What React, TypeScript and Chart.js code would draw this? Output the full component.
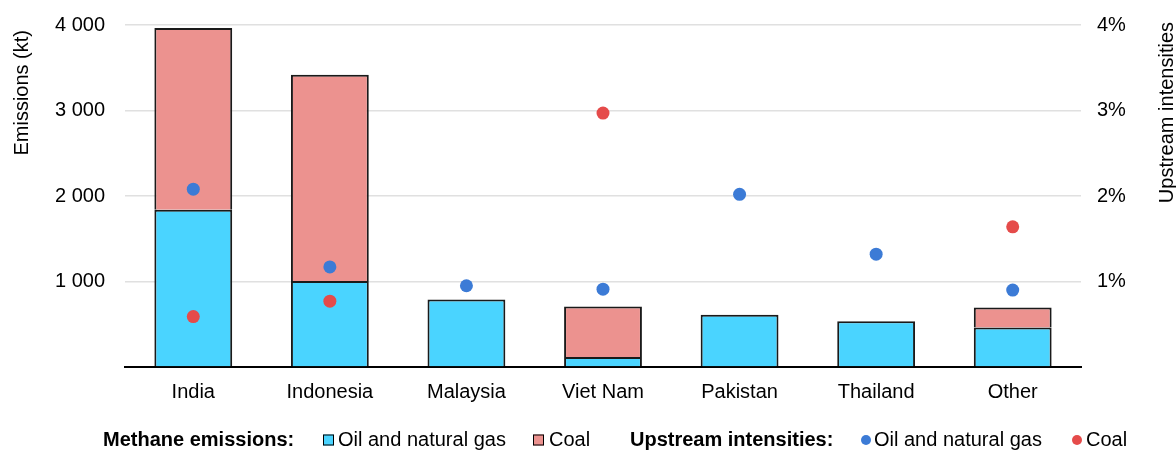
import React, { useEffect, useRef } from 'react';
import { Chart, registerables } from 'chart.js';

Chart.register(...registerables);

const categories = ['India', 'Indonesia', 'Malaysia', 'Viet Nam', 'Pakistan', 'Thailand', 'Other'];
const oilGasEmissions = [1838, 1005, 790, 117, 610, 536, 462];
const coalEmissions = [2127, 2413, null, 591, null, null, 235];
const oilGasIntensity = [2.08, 1.17, 0.95, 0.91, 2.02, 1.32, 0.9];
const coalIntensity = [0.59, 0.77, null, 2.97, null, null, 1.64];
const leftAxisTitle = 'Emissions (kt)';
const rightAxisTitle = 'Upstream intensities';
const legendGroup1 = 'Methane emissions:';
const legendGroup2 = 'Upstream intensities:';
const legendLabels = ['Oil and natural gas', 'Coal'];

const FONT = "'Liberation Sans', Arial, sans-serif";
const FS = 20;
const CYAN = '#4ad4ff';
const PINK = '#ec928f';
const BLUE = '#3c7bd6';
const RED = '#e54b4a';
const BAR_BORDER = '#1a1a1a';

const fmt = (v: number) => String(v).replace(/\B(?=(\d{3})+(?!\d))/g, ' ');

const overlayPlugin = {
  id: 'overlay',
  afterDraw(chart: any) {
    const ctx = chart.ctx as CanvasRenderingContext2D;
    ctx.save();
    ctx.fillStyle = '#000';
    ctx.font = `${FS}px ${FONT}`;
    ctx.textBaseline = 'middle';
    // axis titles
    ctx.save();
    ctx.translate(22, 30);
    ctx.rotate(-Math.PI / 2);
    ctx.textAlign = 'right';
    ctx.fillText(leftAxisTitle, 0, 0);
    ctx.restore();
    ctx.save();
    ctx.translate(1167, 22);
    ctx.rotate(-Math.PI / 2);
    ctx.textAlign = 'right';
    ctx.fillText(rightAxisTitle, 0, 0);
    ctx.restore();

    // legend
    const ly = 440;
    ctx.textAlign = 'left';
    ctx.font = `bold ${FS}px ${FONT}`;
    ctx.fillText(legendGroup1, 103, ly);
    ctx.fillText(legendGroup2, 630, ly);
    ctx.font = `${FS}px ${FONT}`;
    const box = (x: number, c: string) => {
      ctx.fillStyle = c;
      ctx.fillRect(x, ly - 5.5, 11, 11);
      ctx.strokeStyle = '#000';
      ctx.lineWidth = 1;
      ctx.strokeRect(x + 0.5, ly - 5, 10, 10);
    };
    box(323, CYAN);
    box(533, PINK);
    const dot = (x: number, c: string) => {
      ctx.fillStyle = c;
      ctx.beginPath();
      ctx.arc(x, ly, 5, 0, Math.PI * 2);
      ctx.fill();
    };
    dot(866, BLUE);
    dot(1077, RED);
    ctx.fillStyle = '#000';
    ctx.fillText(legendLabels[0], 338, ly);
    ctx.fillText(legendLabels[1], 549, ly);
    ctx.fillText(legendLabels[0], 874, ly);
    ctx.fillText(legendLabels[1], 1086, ly);
    ctx.restore();
  },
};

export default function App() {
  const ref = useRef<HTMLCanvasElement>(null);
  useEffect(() => {
    if (!ref.current) return;
    const chart = new Chart(ref.current, {
      type: 'bar',
      data: {
        labels: categories,
        datasets: [
          {
            type: 'line',
            label: 'Intensity oil and natural gas',
            data: oilGasIntensity,
            yAxisID: 'y1',
            showLine: false,
            pointRadius: 6.5,
            pointBackgroundColor: BLUE,
            pointBorderWidth: 0,
            order: 0,
          } as any,
          {
            type: 'line',
            label: 'Intensity coal',
            data: coalIntensity,
            yAxisID: 'y1',
            showLine: false,
            pointRadius: 6.5,
            pointBackgroundColor: RED,
            pointBorderWidth: 0,
            order: 0,
          } as any,
          {
            label: 'Oil and natural gas',
            data: oilGasEmissions,
            backgroundColor: CYAN,
            borderColor: BAR_BORDER,
            borderWidth: { top: 2, left: 2, right: 2, bottom: 0 },
            borderSkipped: false,
            yAxisID: 'y',
            order: 1,
          },
          {
            label: 'Coal',
            data: coalEmissions,
            backgroundColor: PINK,
            borderColor: BAR_BORDER,
            borderWidth: { top: 2, left: 2, right: 2, bottom: 0 },
            borderSkipped: false,
            yAxisID: 'y',
            order: 1,
          },
        ],
      },
      options: {
        responsive: false,
        animation: false,
        devicePixelRatio: 1,
        layout: { padding: { top: 25, left: 0, right: 0, bottom: 0 } },
        datasets: { bar: { barPercentage: 0.57, categoryPercentage: 1 } },
        plugins: { legend: { display: false }, tooltip: { enabled: false }, title: { display: false } },
        scales: {
          x: {
            stacked: true,
            grid: { display: false },
            border: { color: '#000', width: 2 },
            ticks: { color: '#000', font: { family: FONT, size: FS }, padding: 5, maxRotation: 0 },
            afterFit: (s: any) => {
              s.height = 83;
              s.paddingLeft = 0;
              s.paddingRight = 0;
            },
          },
          y: {
            stacked: true,
            position: 'left',
            min: 0,
            max: 4000,
            ticks: {
              stepSize: 1000,
              color: '#000',
              font: { family: FONT, size: FS },
              padding: 20,
              callback: (v: any) => (v === 0 ? '' : fmt(v)),
            },
            grid: { color: '#e0e0e0', lineWidth: 1.5, drawTicks: false },
            border: { display: false },
            afterFit: (s: any) => {
              s.width = 125;
              s.paddingTop = 0;
              s.paddingBottom = 0;
            },
          },
          y1: {
            position: 'right',
            min: 0,
            max: 4,
            ticks: {
              stepSize: 1,
              color: '#000',
              font: { family: FONT, size: FS },
              padding: 16,
              callback: (v: any) => (v === 0 ? '' : v + '%'),
            },
            grid: { display: false, drawTicks: false },
            border: { display: false },
            afterFit: (s: any) => {
              s.width = 95;
              s.paddingTop = 0;
              s.paddingBottom = 0;
            },
          },
        },
      } as any,
      plugins: [overlayPlugin],
    });
    return () => chart.destroy();
  }, []);
  return (
    <div style={{ position: 'fixed', left: 0, top: 0, width: 1176, height: 450, background: '#fff' }}>
      <canvas ref={ref} width={1176} height={450} style={{ display: 'block' }} />
    </div>
  );
}
